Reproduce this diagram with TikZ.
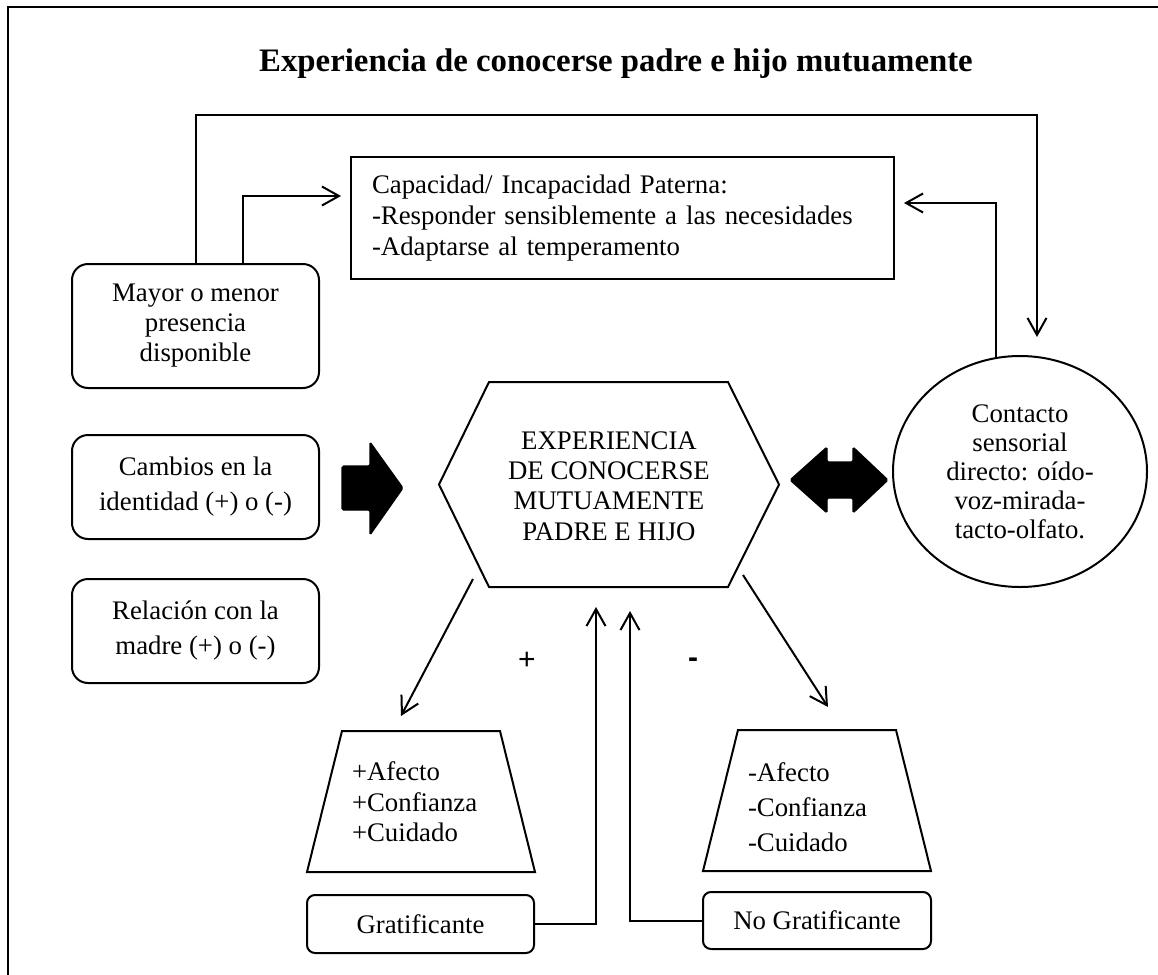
\documentclass[tikz,border=0pt]{standalone}
\usepackage{fontspec}
\setmainfont{Liberation Serif}
\newfontfamily\signfont{Liberation Sans}
\usetikzlibrary{arrows.meta,shapes.geometric}
\begin{document}
\begin{tikzpicture}[x=0.5pt,y=-0.5pt,line width=1pt,
  body/.style={font=\fontsize{13.4}{#1}\selectfont},
  body/.default=15pt,
  rbox/.style={draw, rounded corners=8pt, inner sep=0pt, align=center},
  arr/.style={-{Straight Barb[length=8.5pt,width=9.5pt]}},
  heavy/.style={fill=black, draw=black, line width=0.6pt, rounded corners=0.8pt}]

\useasboundingbox (0,0) rectangle (1158,975);

% outer frame, open to the right and bottom
\begin{scope}
  \clip (0,0) rectangle (1158,975);
  \draw[line width=1.3pt] (8,1000) -- (8,7) -- (1200,7);
\end{scope}

% title
\node[font=\fontsize{16.4}{18}\selectfont\bfseries] (title) at (616,64)
  {Experiencia de conocerse padre e hijo mutuamente};

% paternal capacity box
\node[draw, rectangle, minimum height=61pt, text width=250.5pt,
      inner xsep=10.5pt, inner ysep=0pt, align=left, body=15.5pt] (cap) at (622.5,218)
  {Capacidad/ Incapacidad Paterna:\\-Responder sensiblemente a las necesidades\\-Adaptarse al temperamento};

% left column boxes
\node[rbox, minimum width=123.5pt, minimum height=62pt, body=15pt] (may) at (195.5,326)
  {Mayor o menor\\presencia\\disponible};
\node[rbox, minimum width=123.5pt, minimum height=52pt, body=17.5pt] (camb) at (195.5,487)
  {Cambios en la\\identidad (+) o (-)};
\node[rbox, minimum width=123.5pt, minimum height=52pt, body=17.5pt] (madre) at (195.5,631)
  {Relación con la\\madre (+) o (-)};

% sensory contact
\node[draw, ellipse, minimum width=127pt, minimum height=115.5pt, inner sep=0pt,
      align=center, body=14.5pt] (circ) at (1020,471.5)
  {Contacto\\sensorial\\directo: oído-\\voz-mirada-\\tacto-olfato.};

% central hexagon
\coordinate (h1) at (489,382);
\coordinate (h2) at (728,382);
\coordinate (h3) at (779,484.5);
\coordinate (h4) at (728,587);
\coordinate (h5) at (489,587);
\coordinate (h6) at (439,484.5);
\draw (h1) -- (h2) -- (h3) -- (h4) -- (h5) -- (h6) -- cycle;
\node[align=center, body=15.2pt] (hex) at (609,486)
  {EXPERIENCIA\\DE CONOCERSE\\MUTUAMENTE\\PADRE E HIJO};

% outcome trapezoids
\draw (342,731) -- (500,731) -- (535,872) -- (307,872) -- cycle;
\node[anchor=west, align=left, inner sep=0pt, body=15.25pt] (pos) at (351,802)
  {+Afecto\\+Confianza\\+Cuidado};
\draw (738,730) -- (896,730) -- (931,871) -- (703,871) -- cycle;
\node[anchor=west, align=left, inner sep=0pt, body=17.5pt] (neg) at (747,807)
  {-Afecto\\-Confianza\\-Cuidado};

% bottom boxes
\node[rbox, rounded corners=4pt, minimum width=113.5pt, minimum height=29pt, body] (grat) at (420.5,924)
  {Gratificante};
\node[rbox, rounded corners=4pt, minimum width=114pt, minimum height=28.5pt, body] (nograt) at (817,920.5)
  {No Gratificante};

% signs
\node[font=\signfont\fontsize{15}{17}\selectfont] (plus) at (527,661) {+};
\node[font=\signfont\fontsize{15}{17}\selectfont\bfseries] (minus) at (693,663) {-};

% heavy arrows
\draw[heavy] (342,466) -- (370,466) -- (370,442) -- (403,488) -- (370,535) -- (370,510) -- (342,510) -- cycle;
\draw[heavy] (790,480) -- (827,447) -- (827,462) -- (853,462) -- (853,447) -- (888,480)
  -- (853,513) -- (853,498) -- (827,498) -- (827,513) -- cycle;

% connectors
\coordinate (railR) at (1037,115);
\coordinate (circIn) at (1037,337);
\draw[arr] (may.north) |- (railR) -- (circIn);
\draw[arr] ([xshift=23.75pt]may.north) |- ([shift={(-4.5pt,11pt)}]cap.west);
\draw[arr] (circ.102.5) |- ([shift={(4.5pt,7.5pt)}]cap.east);

\coordinate (dlS) at (473,579);
\coordinate (dlE) at (401,716);
\coordinate (drS) at (743,575);
\coordinate (drE) at (828,707);
\draw[arr] (dlS) -- (dlE);
\draw[arr] (drS) -- (drE);

\coordinate (upL) at (596,607);
\coordinate (upR) at (630,611);
\draw[arr] (grat.east) -| (upL);
\draw[arr] (nograt.west) -| (upR);
\end{tikzpicture}
\end{document}
